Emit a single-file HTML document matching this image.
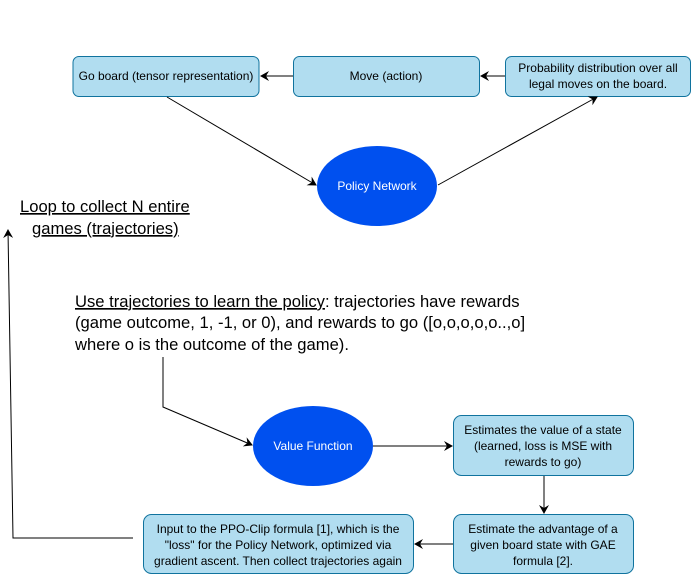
<!DOCTYPE html>
<html><head><meta charset="utf-8"><style>
html,body{margin:0;padding:0;background:#fff;}
svg{display:block;}
text{font-family:"Liberation Sans",Arial,sans-serif;}
</style></head><body>
<svg width="692" height="577" viewBox="0 0 692 577" xmlns="http://www.w3.org/2000/svg">
<defs>
<marker id="a" markerWidth="10" markerHeight="10" refX="8" refY="5" orient="auto" markerUnits="userSpaceOnUse">
<path d="M0,0 L9,5 L0,10 L3,5 Z" fill="#000"/>
</marker>
</defs>
<g fill="#b1ddf0" stroke="#10739e" stroke-width="1">
<rect x="73" y="56.5" width="186" height="40" rx="6"/>
<rect x="293.5" y="56.5" width="186" height="40" rx="6"/>
<rect x="505.5" y="56.5" width="185" height="40" rx="6"/>
<rect x="453.5" y="415.5" width="180" height="60" rx="8"/>
<rect x="453.5" y="514.5" width="180" height="59" rx="8"/>
<rect x="143.5" y="514.5" width="270" height="59" rx="8"/>
</g>
<ellipse cx="377" cy="186" rx="60" ry="40" fill="#0050ef"/>
<ellipse cx="313" cy="446" rx="60" ry="40" fill="#0050ef"/>
<g stroke="#000" stroke-width="1" fill="none">
<line x1="293" y1="76" x2="261" y2="76" marker-end="url(#a)"/>
<line x1="505" y1="76" x2="481" y2="76" marker-end="url(#a)"/>
<line x1="167" y1="97" x2="316" y2="185" marker-end="url(#a)"/>
<line x1="438" y1="185" x2="597" y2="97" marker-end="url(#a)"/>
<line x1="373" y1="446" x2="452" y2="446" marker-end="url(#a)"/>
<line x1="544" y1="476" x2="544" y2="513" marker-end="url(#a)"/>
<line x1="453" y1="544" x2="415" y2="544" marker-end="url(#a)"/>
<polyline points="163,357 163,407 252,445" marker-end="url(#a)"/>
<polyline points="133,538 13,538 8,230" marker-end="url(#a)"/>
</g>
<g font-size="12" text-anchor="middle" fill="#000">
<text x="166" y="80">Go board (tensor representation)</text>
<text x="386" y="80">Move (action)</text>
<text x="598" y="72">Probability distribution over all</text>
<text x="598" y="88">legal moves on the board.</text>
<text x="543" y="434">Estimates the value of a state</text>
<text x="543" y="450">(learned, loss is MSE with</text>
<text x="543" y="466">rewards to go)</text>
<text x="543" y="533">Estimate the advantage of a</text>
<text x="543" y="549">given board state with GAE</text>
<text x="543" y="565">formula [2].</text>
<text x="278" y="533">Input to the PPO-Clip formula [1], which is the</text>
<text x="278" y="549">"loss" for the Policy Network, optimized via</text>
<text x="278" y="565">gradient ascent. Then collect trajectories again</text>
<text x="377" y="190" fill="#fff">Policy Network</text>
<text x="313" y="450" fill="#fff">Value Function</text>
</g>
<g font-size="16.6" fill="#000">
<text x="20" y="212" text-decoration="underline">Loop to collect N entire</text>
<text x="32" y="234" text-decoration="underline">games (trajectories)</text>
<text x="75" y="307"><tspan text-decoration="underline">Use trajectories to learn the policy</tspan>: trajectories have rewards</text>
<text x="75" y="328">(game outcome, 1, -1, or 0), and rewards to go ([o,o,o,o,o..,o]</text>
<text x="75" y="350">where o is the outcome of the game).</text>
</g>
</svg>
</body></html>
